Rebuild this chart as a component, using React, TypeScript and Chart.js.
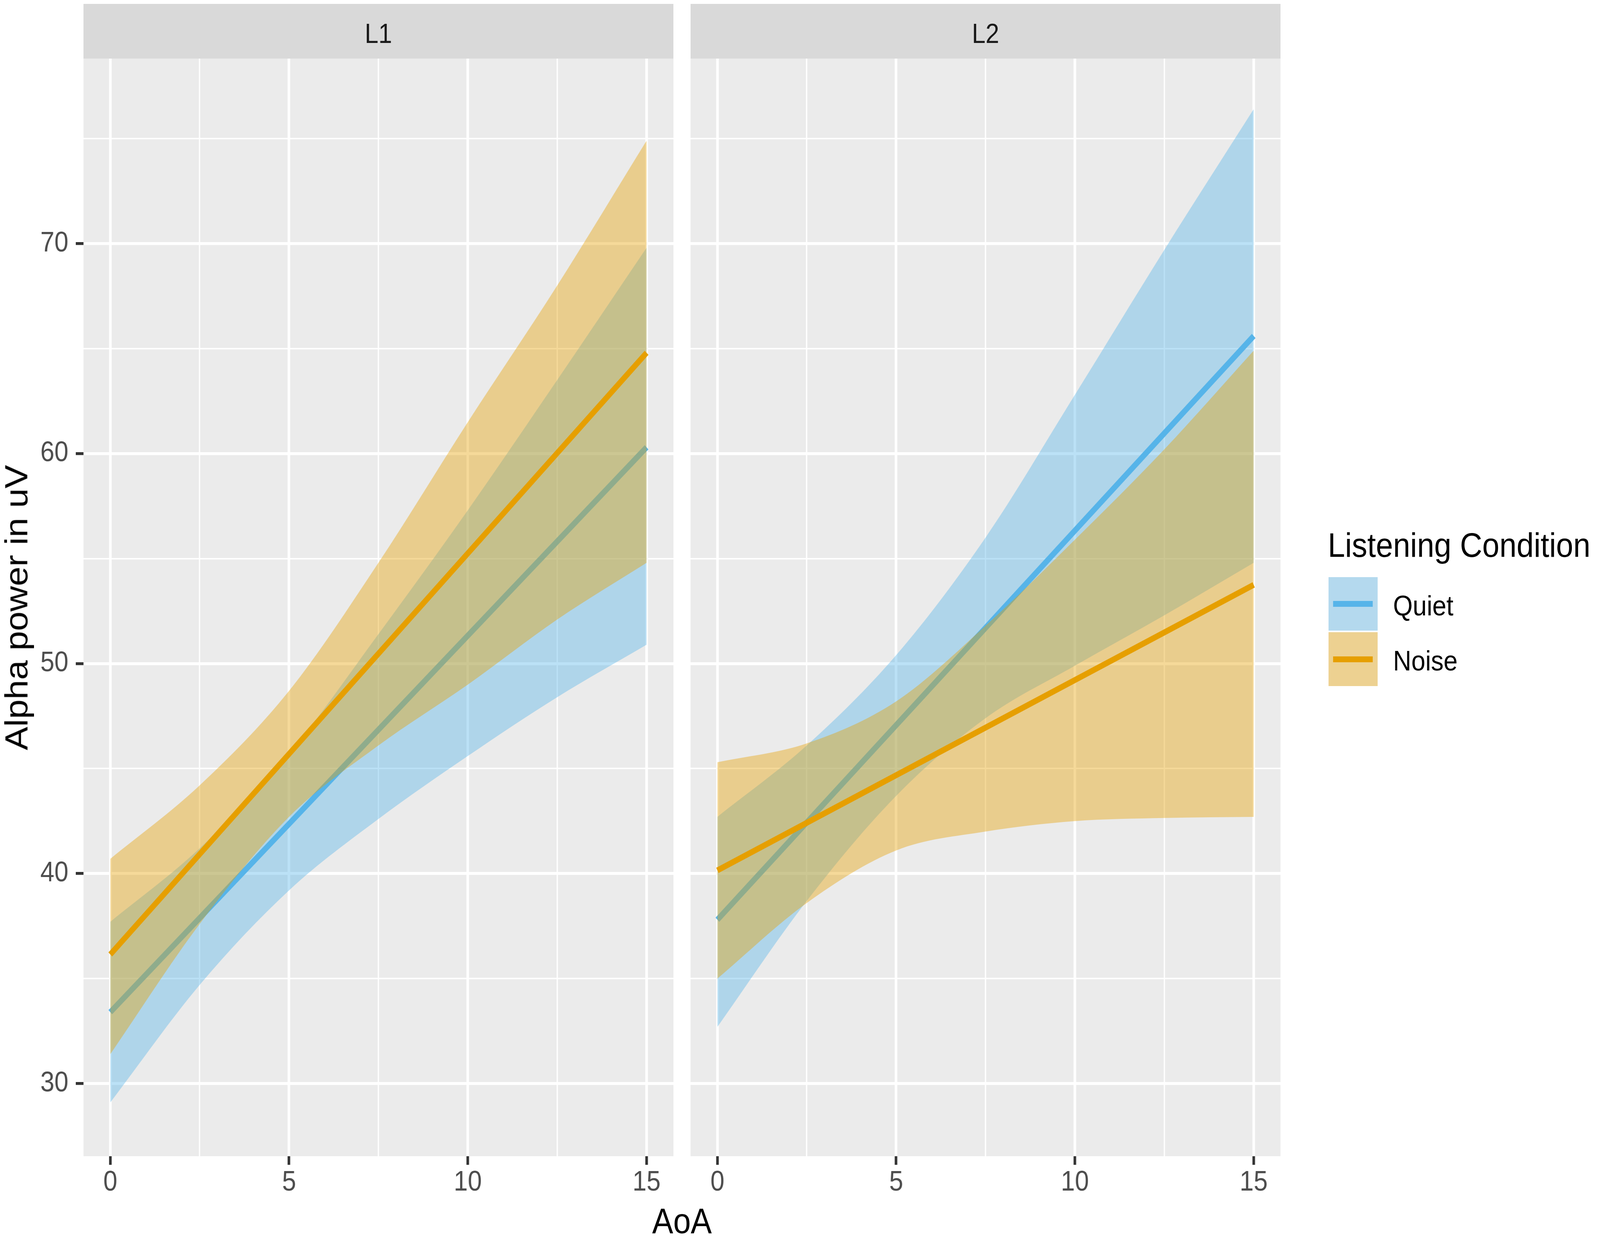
import { useEffect, useRef } from 'react';
import { Chart, registerables } from 'chart.js';

Chart.register(...registerables);

const bandX = [0, 2.5, 5, 7.5, 10, 12.5, 15];
// the fitted lines are straight, so the two ends are enough
const fitX = [0, 15];

const xTicks = [0, 2.5, 5, 7.5, 10, 12.5, 15];
const yTicks = [30, 35, 40, 45, 50, 55, 60, 65, 70, 75];

// panel L1
const l1QuietFit = [33.4, 60.3];
const l1QuietUpper = [37.7, 41.2, 45.7, 51.4, 57.3, 63.5, 69.8];
const l1QuietLower = [29.1, 34.7, 39.2, 42.6, 45.6, 48.4, 50.9];
const l1NoiseFit = [36.15, 64.8];
const l1NoiseUpper = [40.7, 44.2, 48.7, 54.8, 61.5, 68.0, 74.9];
const l1NoiseLower = [31.4, 37.6, 42.7, 46.1, 49.0, 52.1, 54.8];

// panel L2
const l2QuietFit = [37.8, 65.6];
const l2QuietUpper = [42.7, 46.1, 50.4, 56.0, 62.8, 69.7, 76.4];
const l2QuietLower = [32.7, 38.7, 43.7, 47.4, 49.9, 52.3, 54.8];
const l2NoiseFit = [40.15, 53.75];
const l2NoiseUpper = [45.3, 46.2, 48.2, 51.8, 55.9, 60.2, 64.9];
const l2NoiseLower = [35.0, 38.6, 41.1, 42.0, 42.5, 42.65, 42.7];

const FONT = "'Liberation Sans', Arial, Helvetica, sans-serif";
const BLUE = '#56B4E9';
const ORANGE = '#E69F00';
const BLUE_BAND = 'rgba(86,180,233,0.4)';
const ORANGE_BAND = 'rgba(230,159,0,0.4)';

const X_MIN = -0.75;
const X_MAX = 15.75;
const Y_MIN = 26.54;
const Y_MAX = 78.81;

// layout is drawn in the reference's 4562x3173 frame, then fitted to the window
const W = 4562;
const H = 3173;
const PANEL_TOP = 150;
const PANEL_H = 2811;
const PANEL_W = 1682;
const AXIS_H = 120;
const Y_AXIS_W = 238;
const P2_LEFT = 1969;

const isMajorX = (v: number) => v % 5 === 0;
const isMajorY = (v: number) => v % 10 === 0;

const pts = (xs: number[], ys: number[]) => xs.map((x, i) => ({ x, y: ys[i] }));

const panelBg = {
  id: 'panelBg',
  beforeDraw(chart: any) {
    const { ctx, chartArea: a } = chart;
    ctx.save();
    ctx.fillStyle = '#EBEBEB';
    ctx.fillRect(a.left, a.top, a.right - a.left, a.bottom - a.top);
    ctx.restore();
  },
};

function band(ys: number[], fill: string | false, color: string, order: number) {
  return {
    data: pts(bandX, ys),
    fill,
    backgroundColor: color,
    borderColor: 'rgba(0,0,0,0)',
    borderWidth: 0,
    pointRadius: 0,
    cubicInterpolationMode: 'monotone' as const,
    order,
  };
}

function fit(label: string, ys: number[], color: string, order: number) {
  return {
    label,
    data: pts(fitX, ys),
    borderColor: color,
    borderWidth: 15,
    pointRadius: 0,
    fill: false,
    order,
  };
}

function makeChart(canvas: HTMLCanvasElement, p: any, withY: boolean) {
  return new Chart(canvas, {
    type: 'line',
    data: {
      datasets: [
        // drawn bottom to top: quiet band, quiet line, noise band, noise line
        band(p.quietUpper, '+1', BLUE_BAND, 4),
        band(p.quietLower, false, BLUE_BAND, 4),
        fit('Quiet', p.quietFit, BLUE, 3),
        band(p.noiseUpper, '+1', ORANGE_BAND, 2),
        band(p.noiseLower, false, ORANGE_BAND, 2),
        fit('Noise', p.noiseFit, ORANGE, 1),
      ] as any,
    },
    options: {
      animation: false,
      responsive: false,
      maintainAspectRatio: false,
      devicePixelRatio: 1,
      events: [],
      layout: { padding: 0 },
      plugins: { legend: { display: false }, tooltip: { enabled: false } },
      scales: {
        x: {
          type: 'linear',
          min: X_MIN,
          max: X_MAX,
          bounds: 'data',
          afterBuildTicks: (s: any) => {
            s.ticks = xTicks.map(v => ({ value: v }));
          },
          afterFit: (s: any) => {
            s.height = AXIS_H;
            s.paddingLeft = 0;
            s.paddingRight = 0;
          },
          ticks: {
            autoSkip: false,
            maxRotation: 0,
            padding: 10,
            color: '#4D4D4D',
            font: { family: FONT, size: 72, lineHeight: 1 },
            callback: (v: any) => (isMajorX(Number(v)) ? String(v) : ''),
          },
          grid: {
            color: '#FFFFFF',
            lineWidth: (c: any) => (c.tick && isMajorX(c.tick.value) ? 7.4 : 3.7),
            drawTicks: true,
            tickLength: 22,
            tickWidth: 7.4,
            tickColor: (c: any) =>
              c.tick && isMajorX(c.tick.value) ? '#333333' : 'rgba(0,0,0,0)',
          },
          border: { display: false },
        },
        y: {
          type: 'linear',
          min: Y_MIN,
          max: Y_MAX,
          bounds: 'data',
          afterBuildTicks: (s: any) => {
            s.ticks = yTicks.map(v => ({ value: v }));
          },
          afterFit: (s: any) => {
            s.width = withY ? Y_AXIS_W : 0;
            s.paddingTop = 0;
            s.paddingBottom = 0;
          },
          ticks: {
            display: withY,
            autoSkip: false,
            padding: 21,
            color: '#4D4D4D',
            font: { family: FONT, size: 72, lineHeight: 1 },
            callback: (v: any) => (isMajorY(Number(v)) ? String(v) : ''),
          },
          grid: {
            color: '#FFFFFF',
            lineWidth: (c: any) => (c.tick && isMajorY(c.tick.value) ? 7.4 : 3.7),
            drawTicks: withY,
            tickLength: 22,
            tickWidth: 7.4,
            tickColor: (c: any) =>
              c.tick && isMajorY(c.tick.value) ? '#333333' : 'rgba(0,0,0,0)',
          },
          border: { display: false },
        },
      },
    } as any,
    plugins: [panelBg],
  });
}

const panels = [
  {
    name: 'L1',
    quietFit: l1QuietFit,
    quietUpper: l1QuietUpper,
    quietLower: l1QuietLower,
    noiseFit: l1NoiseFit,
    noiseUpper: l1NoiseUpper,
    noiseLower: l1NoiseLower,
  },
  {
    name: 'L2',
    quietFit: l2QuietFit,
    quietUpper: l2QuietUpper,
    quietLower: l2QuietLower,
    noiseFit: l2NoiseFit,
    noiseUpper: l2NoiseUpper,
    noiseLower: l2NoiseLower,
  },
];

const legendItems = [
  { label: 'Quiet', key: 'rgb(180,217,238)', line: BLUE, top: 1478, height: 137 },
  { label: 'Noise', key: 'rgb(237,209,145)', line: ORANGE, top: 1619, height: 138 },
];

export default function App() {
  const c1 = useRef<HTMLCanvasElement>(null);
  const c2 = useRef<HTMLCanvasElement>(null);

  useEffect(() => {
    if (!c1.current || !c2.current) return;
    const a = makeChart(c1.current, panels[0], true);
    const b = makeChart(c2.current, panels[1], false);
    return () => {
      a.destroy();
      b.destroy();
    };
  }, []);

  // the window is narrower than the reference, so squeeze the frame to fit it
  const vw = window.innerWidth || W;
  const vh = window.innerHeight || H;
  const sx = vw / W;
  const sy = vh / H;

  const abs = (s: any) => ({ position: 'absolute' as const, ...s });

  return (
    <div style={{ position: 'fixed', left: 0, top: 0, width: vw, height: vh, overflow: 'hidden', background: '#FFFFFF' }}>
      <div
        style={abs({
          left: 0,
          top: 0,
          width: W,
          height: H,
          background: '#FFFFFF',
          fontFamily: FONT,
          transform: `scale(${sx}, ${sy})`,
          transformOrigin: '0 0',
        })}
      >
        {panels.map((p, i) => (
          <div
            key={p.name}
            style={abs({
              left: i === 0 ? Y_AXIS_W : P2_LEFT,
              top: 10,
              width: PANEL_W,
              height: 140,
              background: '#D9D9D9',
              color: '#1A1A1A',
              fontSize: 70,
              lineHeight: '152px',
              textAlign: 'center',
            })}
          >
            {p.name}
          </div>
        ))}

        <canvas
          ref={c1}
          width={Y_AXIS_W + PANEL_W}
          height={PANEL_H + AXIS_H}
          style={abs({ left: 0, top: PANEL_TOP, width: Y_AXIS_W + PANEL_W, height: PANEL_H + AXIS_H })}
        />
        <canvas
          ref={c2}
          width={PANEL_W}
          height={PANEL_H + AXIS_H}
          style={abs({ left: P2_LEFT, top: PANEL_TOP, width: PANEL_W, height: PANEL_H + AXIS_H })}
        />

        <div
          style={abs({
            left: 46 - PANEL_H / 2,
            top: PANEL_TOP + PANEL_H / 2 - 45,
            width: PANEL_H,
            height: 90,
            lineHeight: '90px',
            fontSize: 90,
            textAlign: 'center',
            color: '#000000',
            transform: 'rotate(-90deg)',
            whiteSpace: 'nowrap',
          })}
        >
          Alpha power in uV
        </div>

        <div
          style={abs({
            left: Y_AXIS_W,
            top: 3077,
            width: P2_LEFT + PANEL_W - Y_AXIS_W,
            height: 100,
            lineHeight: '100px',
            fontSize: 90,
            textAlign: 'center',
            color: '#000000',
          })}
        >
          AoA
        </div>

        <div
          style={abs({
            left: 3786,
            top: 1346,
            height: 100,
            lineHeight: '100px',
            fontSize: 88,
            color: '#000000',
            whiteSpace: 'nowrap',
          })}
        >
          Listening Condition
        </div>

        {legendItems.map(it => (
          <div key={it.label}>
            <div
              style={abs({
                left: 3788,
                top: it.top,
                width: 140,
                height: it.height,
                background: it.key,
              })}
            >
              <div
                style={abs({
                  left: 13,
                  top: it.height / 2 - 7.5,
                  width: 113,
                  height: 15,
                  background: it.line,
                })}
              />
            </div>
            <div
              style={abs({
                left: 3972,
                top: it.top + it.height / 2 + 4 - 50,
                height: 100,
                lineHeight: '100px',
                fontSize: 72,
                color: '#000000',
                whiteSpace: 'nowrap',
              })}
            >
              {it.label}
            </div>
          </div>
        ))}
      </div>
    </div>
  );
}
